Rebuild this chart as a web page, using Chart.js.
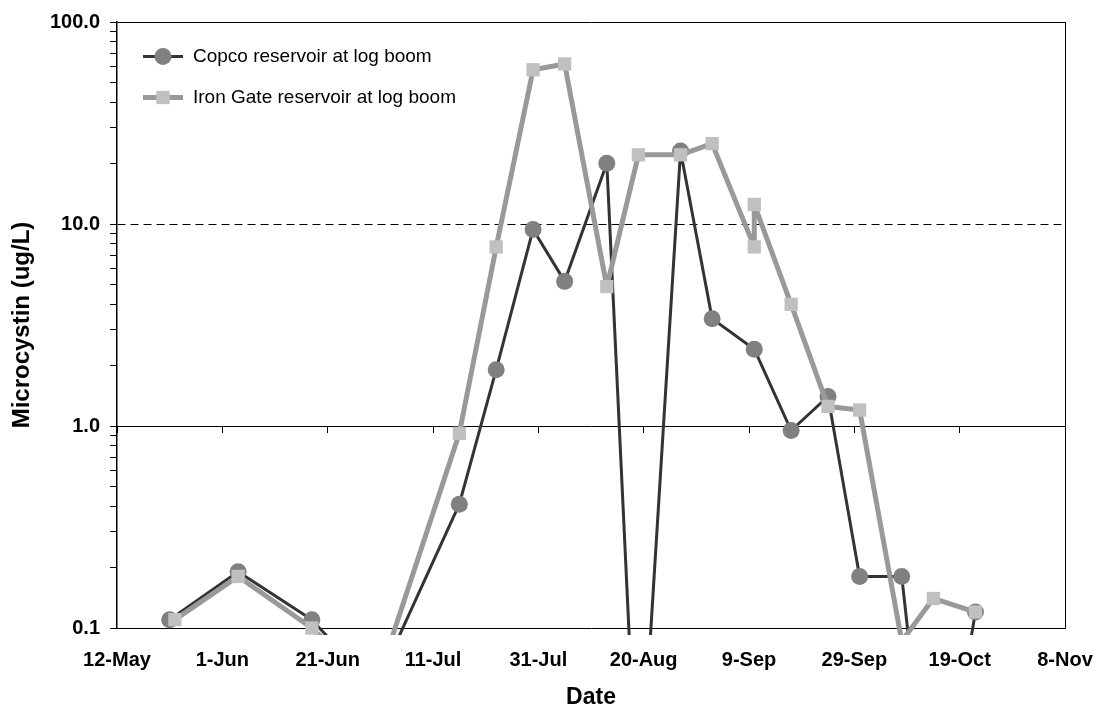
<!DOCTYPE html>
<html lang="en">
<head>
<meta charset="UTF-8">
<title>Microcystin - Copco and Iron Gate reservoirs</title>
<script src="https://cdn.jsdelivr.net/npm/chart.js"></script>
<style>
  body { margin: 0; background: #fff; }
  #wrap { width: 1096px; height: 709px; }
</style>
</head>
<body>
<div id="wrap"><canvas id="mcChart" width="1096" height="709"></canvas></div>
<script>
// sample dates (mm-dd) and microcystin (ug/L)
// anything under 0.1 sits below the log axis, only the lines into it show
const copcoDates = ['05-22', '06-04', '06-18', '06-30', '07-16', '07-23', '07-30', '08-05', '08-13', '08-19',
                    '08-27', '09-02', '09-10', '09-17', '09-24', '09-30', '10-08', '10-14', '10-22'];
const copcoValues = [0.11, 0.19, 0.11, 0.05, 0.41, 1.9, 9.4, 5.2, 20, 0.01,
                     23, 3.4, 2.4, 0.95, 1.4, 0.18, 0.18, 0.007, 0.12];

const ironGateDates = ['05-23', '06-04', '06-18', '06-30', '07-16', '07-23', '07-30', '08-05', '08-13', '08-19',
                       '08-27', '09-02', '09-10', '09-10', '09-17', '09-24', '09-30', '10-08', '10-14', '10-22'];
const ironGateValues = [0.11, 0.18, 0.10, 0.05, 0.92, 7.7, 58, 62, 4.9, 22,
                        22, 25, 7.7, 12.5, 4.0, 1.25, 1.2, 0.086, 0.14, 0.12];

const axisStart = '05-12';
const tickStep = 20; // days
const xTickLabels = ['12-May', '1-Jun', '21-Jun', '11-Jul', '31-Jul', '20-Aug', '9-Sep', '29-Sep', '19-Oct', '8-Nov'];
const yTickValues = [0.1, 1, 10, 100];
const yTickLabels = ['0.1', '1.0', '10.0', '100.0'];
const thresholdLevel = 10;   // dashed line
const yTop = 100;            // plot frame

const FONT = '"Liberation Sans", Arial, Helvetica, sans-serif';

function dayOf(md) {
    const [m, d] = md.split('-').map(Number);
    const [m0, d0] = axisStart.split('-').map(Number);
    return (Date.UTC(2001, m - 1, d) - Date.UTC(2001, m0 - 1, d0)) / 86400000;
}

const xMax = (xTickLabels.length - 1) * tickStep;
const copcoPoints = copcoDates.map((d, i) => ({ x: dayOf(d), y: copcoValues[i] }));
const ironGatePoints = ironGateDates.map((d, i) => ({ x: dayOf(d), y: ironGateValues[i] }));

const near = (a, b) => Math.abs(a - b) < 1e-9;

// keep 1..9 x 10^n ticks only (v4 also makes 1.5, 15 ...)
function wholeMantissa(v) {
    const m = v / Math.pow(10, Math.floor(Math.log10(v) + 1e-9));
    return Math.abs(m - Math.round(m)) < 1e-6;
}

// legend sits inside the plot, line with marker like the old excel one
const insideLegend = {
    id: 'insideLegend',
    afterDatasetsDraw(chart) {
        const { ctx, chartArea } = chart;
        const x0 = chartArea.left + 26;
        chart.data.datasets.forEach((ds, i) => {
            const y = chartArea.top + 34.5 + i * 41;
            ctx.save();
            ctx.strokeStyle = ds.borderColor;
            ctx.lineWidth = ds.borderWidth;
            ctx.beginPath();
            ctx.moveTo(x0, y);
            ctx.lineTo(x0 + 40, y);
            ctx.stroke();
            ctx.fillStyle = ds.pointBackgroundColor;
            Chart.helpers.drawPoint(ctx, { pointStyle: ds.pointStyle, radius: ds.pointRadius, borderWidth: 0, rotation: 0 }, x0 + 20, y);
            ctx.fillStyle = '#000';
            ctx.font = '19px ' + FONT;
            ctx.textBaseline = 'middle';
            ctx.textAlign = 'left';
            ctx.fillText(ds.label, x0 + 50, y);
            ctx.restore();
        });
    }
};

const tickFont = { family: FONT, size: 20, weight: 'bold' };
const clipBox = { left: 10, top: 10, right: 10, bottom: 7 };

new Chart(document.getElementById('mcChart'), {
    type: 'line',
    data: {
        datasets: [{
            label: 'Copco reservoir at log boom',
            data: copcoPoints,
            borderColor: '#333333',
            borderWidth: 3,
            borderJoinStyle: 'round',
            pointStyle: 'circle',
            pointRadius: 8.5,
            pointBackgroundColor: '#808080',
            pointBorderColor: '#808080',
            pointBorderWidth: 0,
            tension: 0,
            clip: clipBox,
            order: 1
        }, {
            label: 'Iron Gate reservoir at log boom',
            data: ironGatePoints,
            borderColor: '#999999',
            borderWidth: 5,
            borderJoinStyle: 'round',
            pointStyle: 'rect',
            pointRadius: 9.4,
            pointBackgroundColor: '#C0C0C0',
            pointBorderColor: '#C0C0C0',
            pointBorderWidth: 0,
            tension: 0,
            clip: clipBox,
            order: 0
        }]
    },
    options: {
        responsive: false,
        animation: false,
        layout: { padding: { top: 22, right: 31, bottom: 0, left: 0 } },
        plugins: {
            legend: { display: false },
            tooltip: { enabled: false }
        },
        scales: {
            x: {
                type: 'linear',
                min: 0,
                max: xMax,
                afterFit: s => { s.height = 81; s.paddingLeft = 0; s.paddingRight = 0; },
                ticks: {
                    stepSize: tickStep,
                    autoSkip: false,
                    maxRotation: 0,
                    padding: 20,
                    color: '#000',
                    font: tickFont,
                    callback: (v, i) => xTickLabels[i]
                },
                grid: {
                    drawTicks: false,
                    color: c => (c.tick && c.tick.value === xMax) ? '#000' : 'rgba(0,0,0,0)'
                },
                border: { display: true, color: '#000', width: 1 },
                title: {
                    display: true,
                    text: 'Date',
                    color: '#000',
                    font: { family: FONT, size: 23, weight: 'bold', lineHeight: 1 },
                    padding: { top: 0, bottom: 0 }
                }
            },
            // excel had the category axis crossing at 1.0, ticks hang off it
            x2: {
                type: 'linear',
                min: 0,
                max: xMax,
                position: { y: 1 },
                ticks: { stepSize: tickStep, display: false },
                grid: { drawOnChartArea: false, drawTicks: true, tickLength: 6, tickColor: '#000' },
                border: { display: true, color: '#000', width: 1 }
            },
            y: {
                type: 'logarithmic',
                min: 0.1,
                max: yTop,
                afterBuildTicks: s => { s.ticks = s.ticks.filter(t => wholeMantissa(t.value)); },
                afterFit: s => { s.width = 117; s.paddingTop = 0; s.paddingBottom = 0; },
                ticks: {
                    autoSkip: false,
                    padding: 10,
                    color: '#000',
                    font: tickFont,
                    callback: v => {
                        const i = yTickValues.findIndex(t => near(t, v));
                        return i >= 0 ? yTickLabels[i] : '';
                    }
                },
                grid: {
                    color: c => (c.tick && (near(c.tick.value, yTop) || near(c.tick.value, thresholdLevel))) ? '#000' : 'rgba(0,0,0,0)',
                    tickColor: '#000',
                    tickLength: 7
                },
                border: {
                    display: true,
                    color: '#000',
                    width: 1.5,
                    dash: c => (c.tick && near(c.tick.value, thresholdLevel)) ? [8, 5] : []
                },
                title: {
                    display: true,
                    text: 'Microcystin (ug/L)',
                    color: '#000',
                    font: { family: FONT, size: 24, weight: 'bold', lineHeight: 1 },
                    padding: { top: 10, bottom: 0 }
                }
            }
        }
    },
    plugins: [insideLegend]
});
</script>
</body>
</html>
